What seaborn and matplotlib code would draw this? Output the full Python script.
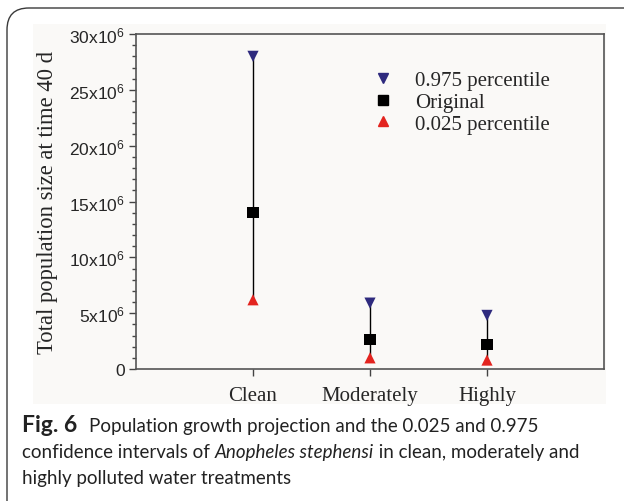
import numpy as np
import pandas as pd
import matplotlib
matplotlib.use("Agg")
import matplotlib.pyplot as plt
import seaborn as sns
from matplotlib.patches import FancyBboxPatch, Rectangle
from matplotlib.lines import Line2D
from matplotlib.ticker import MultipleLocator, FixedLocator

# data
treatments = ["Clean", "Moderately", "Highly"]
upper_975 = [28.0e6, 5.9e6, 4.8e6]
original = [14.0e6, 2.65e6, 2.2e6]
lower_025 = [6.2e6, 1.0e6, 0.8e6]
ytick_vals = [0, 5e6, 10e6, 15e6, 20e6, 25e6, 30e6]
ytick_labels = ["0"] + [r"$\mathregular{%dx10^6}$" % v for v in (5, 10, 15, 20, 25, 30)]

navy = "#2e2a7e"
red = "#e3241f"

df = pd.DataFrame({
    "treatment": treatments * 3,
    "value": upper_975 + original + lower_025,
    "stat": ["0.975 percentile"] * 3 + ["Original"] * 3 + ["0.025 percentile"] * 3,
})

sns.set_style("white")
plt.rcParams["font.family"] = ["Liberation Serif", "DejaVu Serif"]

W, H = 624, 502
fig = plt.figure(figsize=(W / 100, H / 100), dpi=100)

# card frame and light chart background
card = FancyBboxPatch((7 / W, -30 / H), 700 / W, (H - 9 + 30) / H, boxstyle="round,pad=0,rounding_size=0.035",
                      transform=fig.transFigure, fill=False, ec="#3a3a3a", lw=1.0, mutation_aspect=W / H,
                      zorder=-2)
fig.patches.append(card)
fig.patches.append(Rectangle((33 / W, 1 - 405 / H), (606 - 33) / W, (405 - 25) / H,
                             transform=fig.transFigure, fc="#faf9f7", ec="none", zorder=-1))

ax = fig.add_axes([136 / W, 1 - 370 / H, (604 - 136) / W, (370 - 35) / H])
ax.patch.set_alpha(0)

sns.scatterplot(data=df, x="treatment", y="value", hue="stat", style="stat",
                palette={"0.975 percentile": navy, "Original": "black", "0.025 percentile": red},
                markers={"0.975 percentile": "v", "Original": "s", "0.025 percentile": "^"},
                s=65, edgecolor="none", zorder=3, legend=False, ax=ax)
ax.vlines(treatments, lower_025, upper_975, color="black", lw=1.0, zorder=2)

ax.set_xlim(-1, 3)
ax.set_ylim(0, 30e6)
ax.yaxis.set_major_locator(FixedLocator(ytick_vals))
ax.set_yticklabels(ytick_labels, family="Liberation Sans", fontsize=12.5)
ax.yaxis.set_minor_locator(MultipleLocator(1e6))
ax.tick_params(axis="y", which="major", direction="out", length=5, width=1, color="#444", left=True, pad=3)
ax.tick_params(axis="y", which="minor", direction="out", length=3, width=1, color="#444", left=True)
ax.tick_params(axis="x", which="major", direction="out", length=5, width=1, color="#444", bottom=True, pad=7,
               labelsize=15)
ax.set_xlabel("")
ax.set_ylabel("Total population size at time 40 d", fontsize=16.3, labelpad=8)
for s in ax.spines.values():
    s.set_color("#555")
    s.set_linewidth(1.2)

handles = [Line2D([], [], ls="none", marker="v", color=navy, markersize=7.5),
           Line2D([], [], ls="none", marker="s", color="black", markersize=6.5),
           Line2D([], [], ls="none", marker="^", color=red, markersize=7.5)]
ax.legend(handles, ["0.975 percentile", "Original", "0.025 percentile"], loc="upper left",
          bbox_to_anchor=(0.487, 0.915), frameon=False, fontsize=15, handlelength=1.0,
          handletextpad=1.05, labelspacing=0.1, borderaxespad=0)

# caption with mixed styles
cap_font = ["Lato", "DejaVu Sans"]
renderer = fig.canvas.get_renderer()


def draw_runs(x, y, runs):
    for txt, kw in runs:
        kw = dict(kw)
        size = kw.pop("fontsize", 13.5)
        gap = kw.pop("gap", 0)
        t = fig.text((x + gap) / W, 1 - y / H, txt, family=cap_font, fontsize=size, va="baseline",
                     color="#222", **kw)
        x = t.get_window_extent(renderer).x1


draw_runs(22, 432, [("Fig. 6", {"weight": "bold", "fontsize": 16.5}),
                    ("Population growth projection and the 0.025 and 0.975", {"gap": 12})])
draw_runs(22, 458, [("confidence intervals of ", {}), ("Anopheles stephensi", {"style": "italic"}),
                    (" in clean, moderately and", {})])
draw_runs(22, 484, [("highly polluted water treatments", {})])

fig.savefig("out.png", dpi=100)
